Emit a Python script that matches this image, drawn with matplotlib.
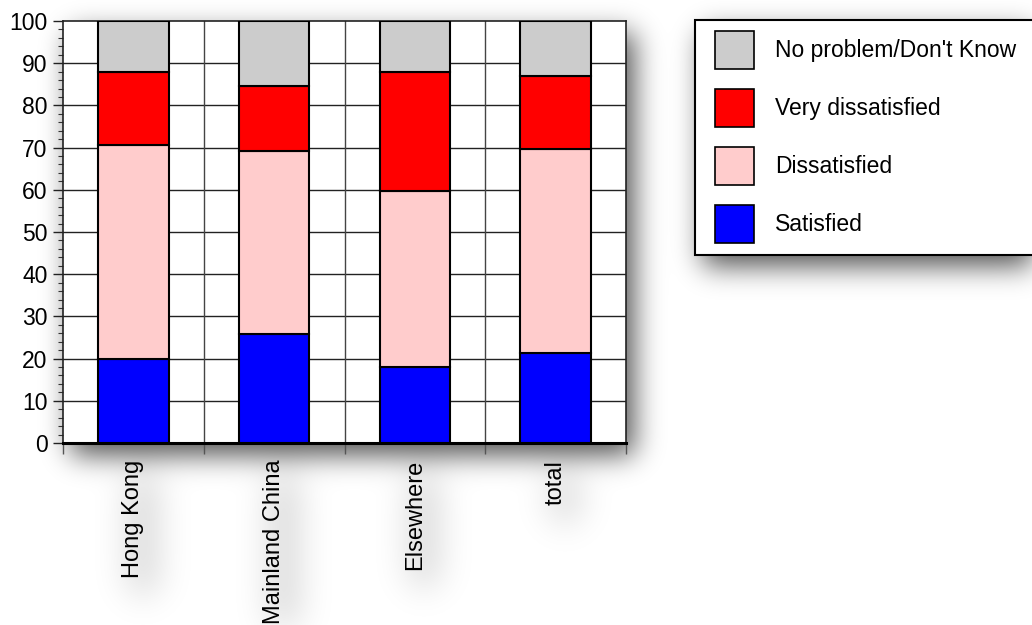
import numpy as np
import matplotlib
matplotlib.use("Agg")
import matplotlib.pyplot as plt
from matplotlib.patches import Patch, Rectangle
from matplotlib.ticker import MultipleLocator, FixedLocator

# Survey responses (%) by place of origin
categories = ["Hong Kong", "Mainland China", "Elsewhere", "total"]
satisfied = [20.0, 25.8, 17.9, 21.3]
dissatisfied = [50.6, 43.5, 41.9, 48.4]
very_dissatisfied = [17.2, 15.3, 28.1, 17.3]
no_problem = [12.2, 15.4, 12.1, 13.0]

series_names = ["Satisfied", "Dissatisfied", "Very dissatisfied", "No problem/Don't Know"]
series_colors = ["#0000ff", "#ffcccc", "#ff0000", "#cccccc"]
y_ticks = [0, 10, 20, 30, 40, 50, 60, 70, 80, 90, 100]

plt.rcParams["font.family"] = ["Liberation Sans", "DejaVu Sans"]
FS = 17
LEG_FS = 16.5

W, H = 1032, 625
fig = plt.figure(figsize=(W / 100, H / 100), dpi=100)
fig.patch.set_facecolor("white")

ax = fig.add_axes([63 / W, 1 - 443 / H, (626 - 63) / W, (443 - 21) / H])
ax.set_facecolor("white")

centers = np.arange(len(categories)) + 0.5
bottom = np.zeros(len(categories))
for vals, name, col in zip([satisfied, dissatisfied, very_dissatisfied, no_problem],
                           series_names, series_colors):
    ax.bar(centers, vals, width=0.5, bottom=bottom, color=col,
           edgecolor="black", linewidth=1.5, label=name, zorder=3)
    bottom += np.array(vals)

ax.set_xlim(0, len(categories))
ax.set_ylim(0, 100)

# y axis: major every 10, minor every 2
ax.yaxis.set_major_locator(FixedLocator(y_ticks))
ax.yaxis.set_minor_locator(MultipleLocator(2))
ax.tick_params(axis="y", which="major", length=7, width=1, pad=4,
               labelsize=16.5, direction="out", color="#222222")
ax.tick_params(axis="y", which="minor", length=3.5, width=0.8,
               direction="out", color="#333333")

# x axis: boundary ticks unlabeled, category labels at centers
ax.xaxis.set_major_locator(FixedLocator(np.arange(len(categories) + 1)))
ax.xaxis.set_major_formatter(plt.NullFormatter())
ax.xaxis.set_minor_locator(FixedLocator(centers))
ax.set_xticklabels(categories, minor=True, rotation=90, fontsize=FS, va="top")
ax.tick_params(axis="x", which="major", length=8, width=1, color="#555555")
ax.tick_params(axis="x", which="minor", length=0, pad=12)

# grid: horizontal every 10, vertical at boundaries and centers
for y in y_ticks[1:-1]:
    ax.axhline(y, color="#222222", linewidth=1.0, zorder=1)
for x in np.arange(0.5, len(categories), 0.5):
    ax.axvline(x, color="#444444", linewidth=1.0, zorder=1)

for side in ["left", "top", "right"]:
    ax.spines[side].set_linewidth(1.2)
    ax.spines[side].set_color("#222222")
ax.spines["bottom"].set_linewidth(2.2)
ax.spines["bottom"].set_color("black")

# Legend with its own frame that runs off the right edge
frame = Rectangle((695 / W, 1 - 255 / H), 400 / W, (255 - 20) / H,
                  transform=fig.transFigure, facecolor="white",
                  edgecolor="black", linewidth=1.5, zorder=2)
fig.patches.append(frame)

handles = [Patch(facecolor=c, edgecolor="black", linewidth=1.2, label=n)
           for n, c in zip(series_names, series_colors)][::-1]
leg = fig.legend(handles=handles, loc="upper left",
                 bbox_to_anchor=(715 / W, 1 - 31 / H), frameon=False,
                 fontsize=LEG_FS, handlelength=1.7, handleheight=2.18,
                 labelspacing=0.87, handletextpad=0.92, borderpad=0,
                 borderaxespad=0)
leg.set_zorder(5)

# Soft drop shadows beneath the plot box, legend box and category labels
fig.canvas.draw()
renderer = fig.canvas.get_renderer()


def add_box(mask, bb, dx, dy, weight):
    x0, x1 = int(bb.x0 + dx), int(bb.x1 + dx)
    r0, r1 = int(H - bb.y1 + dy), int(H - bb.y0 + dy)
    x0, x1 = max(x0, 0), min(x1, W)
    r0, r1 = max(r0, 0), min(r1, H)
    if x1 > x0 and r1 > r0:
        mask[r0:r1, x0:x1] = np.maximum(mask[r0:r1, x0:x1], weight)


def blur(a, sigma):
    r = int(3 * sigma)
    t = np.arange(-r, r + 1)
    k = np.exp(-t ** 2 / (2 * sigma ** 2))
    k /= k.sum()
    pad = np.pad(a, r, mode="constant")
    pad = np.apply_along_axis(lambda m: np.convolve(m, k, mode="same"), 0, pad)
    pad = np.apply_along_axis(lambda m: np.convolve(m, k, mode="same"), 1, pad)
    return pad[r:-r, r:-r]


main = np.zeros((H, W))
add_box(main, ax.get_window_extent(renderer), 8, 12, 1.0)
add_box(main, frame.get_window_extent(renderer), 8, 12, 1.0)
main = blur(main, 14) * 0.68

soft = np.zeros((H, W))
for lbl in ax.get_xticklabels(minor=True):
    add_box(soft, lbl.get_window_extent(renderer), 10, 16, 1.0)
soft = blur(soft, 18) * 0.22

alpha = np.clip(main + soft, 0, 1)
rgba = np.zeros((H, W, 4))
rgba[..., 3] = alpha
fig.figimage(rgba, xo=0, yo=0, origin="upper", zorder=-1)

fig.savefig("out.png", dpi=100)
